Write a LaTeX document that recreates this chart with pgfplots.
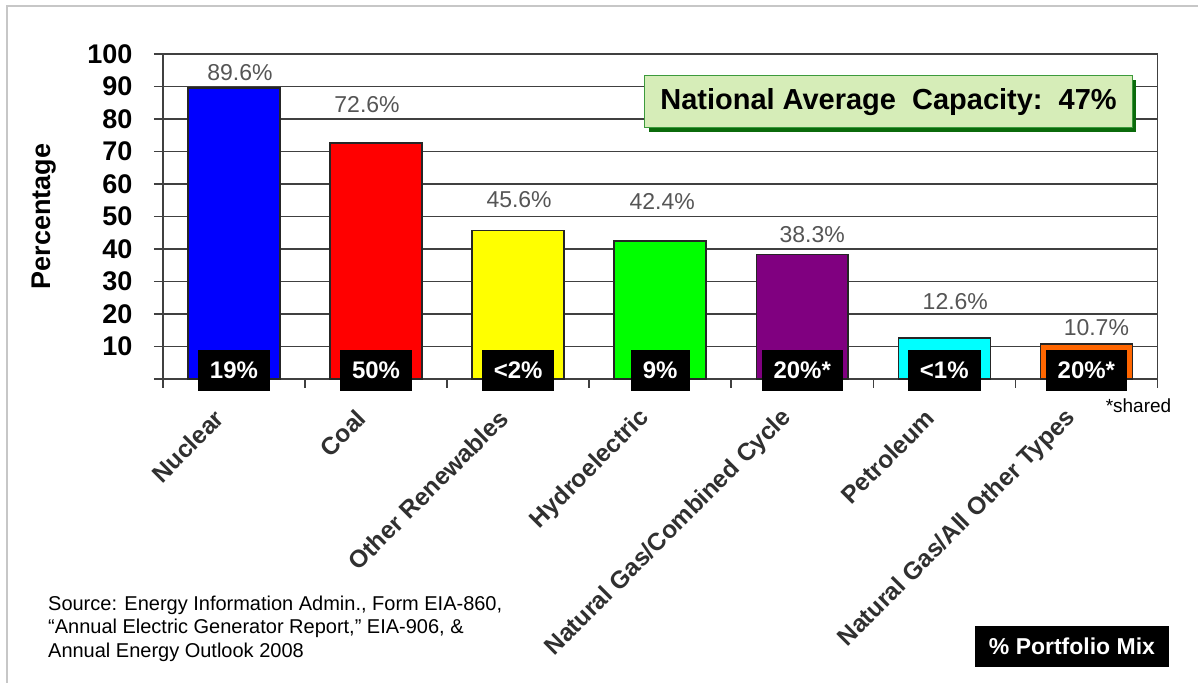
\documentclass[border=0pt]{standalone}
\usepackage{pgfplots}
\pgfplotsset{compat=1.18}
\usepackage{fontspec}
\setmainfont{Liberation Sans}
\usetikzlibrary{shadows}
\definecolor{axisgray}{HTML}{404040}
\definecolor{valgray}{HTML}{555555}
\definecolor{labgray}{HTML}{303030}
\definecolor{cnuc}{HTML}{0000FF}
\definecolor{ccoal}{HTML}{FF0000}
\definecolor{cren}{HTML}{FFFF00}
\definecolor{chyd}{HTML}{00FF00}
\definecolor{cngcc}{HTML}{800080}
\definecolor{cpet}{HTML}{00FFFF}
\definecolor{cngo}{HTML}{FF6600}
\definecolor{boxfill}{HTML}{D6EDB8}
\definecolor{boxdraw}{HTML}{3C9A3C}
\definecolor{boxshadow}{HTML}{0B6B0B}
\newcommand\fs[1]{\fontsize{#1}{#1}\selectfont}
\pgfplotsset{
  valbar/.style 2 args={ybar, bar width=92pt, bar shift=0pt, draw=black!85, line width=1.5pt,
    nodes near coords, point meta=explicit symbolic,
    every node near coord/.append style={font=\fs{23}, text=valgray, xshift=#1, yshift=#2}},
}
\begin{document}
\begin{tikzpicture}
\path[fill=white] (0pt,0pt) rectangle (1199pt,683pt);
\draw[black!22, line width=1.2pt] (7pt,0pt) -- (7pt,677pt) -- (1199pt,677pt);
\begin{axis}[
  at={(163pt,304pt)}, anchor=south west,
  scale only axis, width=995pt, height=325pt,
  xmin=-0.5, xmax=6.5, ymin=0, ymax=100,
  clip=false,
  axis line style={draw=axisgray, line width=1.5pt},
  ytick={0,10,...,100},
  yticklabels={{},10,20,30,40,50,60,70,80,90,100},
  ymajorgrids, grid style={draw=axisgray, line width=1.5pt},
  /pgf/number format/assume math mode=true,
  yticklabel style={font=\fs{27}\bfseries, text=black, xshift=-18pt},
  tick style={draw=axisgray, line width=1.5pt},
  major tick length=9pt,
  tick align=outside,
  xtick pos=bottom, ytick pos=left,
  xtick={-0.5,0.5,...,6.5}, xticklabels={},
  extra x ticks={0,1,2,3,4,5,6},
  extra x tick labels={Nuclear,Coal,Other Renewables,Hydroelectric,Natural Gas/Combined Cycle,Petroleum,Natural Gas/All Other Types},
  extra x tick style={major tick length=0pt, grid=none,
    xticklabel style={font=\fs{24.5}\bfseries, text=labgray, xshift=-12pt, yshift=-33pt, rotate=45, anchor=east}},
  every axis y label/.style={at={(axis description cs:0,0.5)}, xshift=-119pt, rotate=90, anchor=center, font=\fs{27}\bfseries},
  ylabel={Percentage},
]
\addplot[valbar={6pt}{3pt},   fill=cnuc]  coordinates {(0,89.6) [89.6\%]};
\addplot[valbar={-9pt}{26pt}, fill=ccoal] coordinates {(1,72.6) [72.6\%]};
\addplot[valbar={1pt}{19pt},  fill=cren]  coordinates {(2,45.6) [45.6\%]};
\addplot[valbar={2pt}{27pt},  fill=chyd]  coordinates {(3,42.4) [42.4\%]};
\addplot[valbar={10pt}{8pt},  fill=cngcc] coordinates {(4,38.3) [38.3\%]};
\addplot[valbar={11pt}{24pt}, fill=cpet]  coordinates {(5,12.6) [12.6\%]};
\addplot[valbar={10pt}{4pt},  fill=cngo]  coordinates {(6,10.7) [10.7\%]};
\addplot[draw=none, mark=none, nodes near coords, point meta=explicit symbolic,
  every node near coord/.append style={anchor=center, fill=black, text=white, font=\fs{24}\bfseries,
    minimum height=41pt, inner xsep=12pt, inner ysep=0pt}]
  coordinates {(0,2.6)[19\%] (1,2.6)[50\%] (2,2.6)[<2\%] (3,2.6)[9\%] (4,2.6)[20\%*] (5,2.6)[<1\%] (6,2.6)[20\%*]};
\end{axis}
\node[fill=boxfill, draw=boxdraw, line width=1pt, minimum width=488pt, minimum height=52pt,
  font=\fs{29}\bfseries, inner sep=0pt,
  drop shadow={shadow xshift=4pt, shadow yshift=-4pt, fill=boxshadow, opacity=1}]
  at (889pt,581pt) {National Average\ \ Capacity:\ \ 47\%};
\node[anchor=base east, font=\fs{19}, inner sep=0pt] at (1172pt,270pt) {*shared};
\node[fill=black, text=white, font=\fs{23}\bfseries, minimum width=195pt, minimum height=41pt, inner sep=0pt]
  at (1072.5pt,36.5pt) {\% Portfolio Mix};
\node[anchor=north west, align=left, font=\fontsize{20}{23.5}\selectfont, inner sep=0pt] at (48pt,87pt)
  {Source: Energy Information Admin., Form EIA-860,\\
   “Annual Electric Generator Report,” EIA-906, \&\\
   Annual Energy Outlook 2008};
\end{tikzpicture}
\end{document}
